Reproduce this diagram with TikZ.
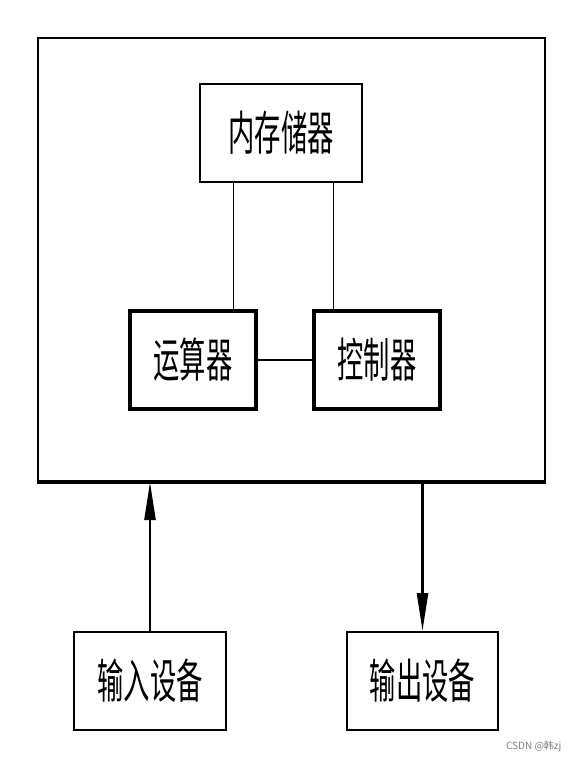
\documentclass[tikz,border=0pt]{standalone}
\usepackage{fontspec}
\setmainfont{Noto Sans CJK SC}
\newfontfamily\cjkfont[FakeStretch=0.56]{Noto Sans CJK SC}
\usetikzlibrary{arrows.meta}
\tikzset{
  unit/.style={draw,line width=2pt,inner sep=0pt,font=\cjkfont\fontsize{47}{47}\selectfont},
  link/.style={line width=1pt},
  flow/.style={line width=2.5pt,-{Triangle[length=38pt,width=11pt]}}
}

\begin{document}
\begin{tikzpicture}[x=1pt,y=-1pt]
\useasboundingbox(0,0) rectangle (580,767);
%
\node[draw,line width=2pt,minimum width=507pt,minimum height=443pt](host) at (291.5,259.5){};
\draw[line width=4pt](host.south west)--(host.south east);
%
\node[unit,minimum width=162pt,minimum height=98pt](mem) at (281,133){内存储器};
\node[unit,line width=3.5pt,minimum width=126pt,minimum height=98pt](alu) at (193,360){运算器};
\node[unit,line width=3.5pt,minimum width=126pt,minimum height=98pt](ctrl) at (377,360){控制器};
\node[unit,minimum width=152pt,minimum height=98pt](in) at (150,681){输入设备};
\node[unit,minimum width=151pt,minimum height=98pt](out) at (422.5,681){输出设备};
%
\draw[link]([xshift=-48pt]mem.south)--([xshift=-48pt]mem.south |- alu.north);
\draw[link]([xshift=52pt]mem.south)--([xshift=52pt]mem.south |- ctrl.north);
\draw[line width=2pt](alu.east)--(alu.east -| ctrl.west);
%
\draw[flow](in.north)--(in.north |- host.south);
\draw[flow](out.north |- host.south)--(out.north);
%
\node[anchor=east,text=gray,font=\fontsize{10}{10}\selectfont](mark) at (565,746){CSDN @韩zj};
\end{tikzpicture}
\end{document}
